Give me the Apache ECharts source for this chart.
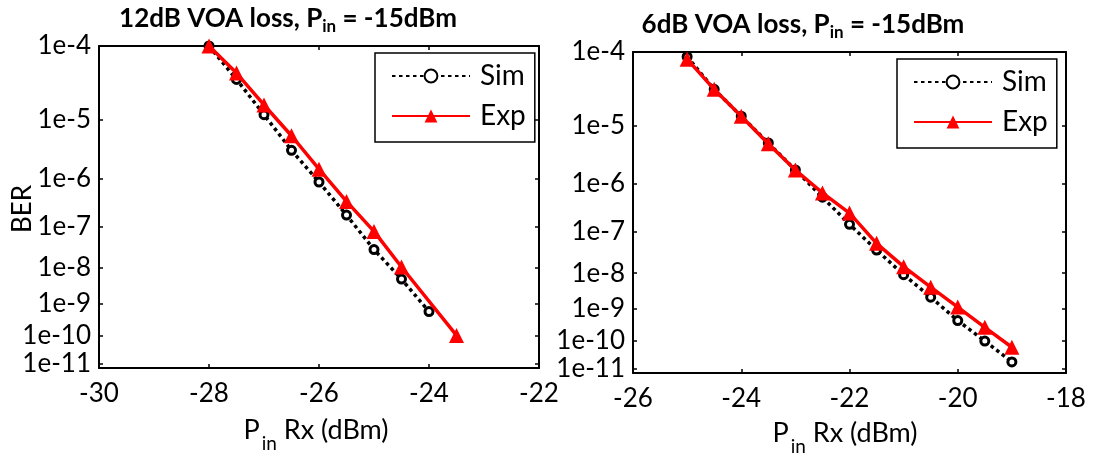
<!DOCTYPE html>
<html>
<head>
<meta charset="utf-8">
<script src="https://cdn.jsdelivr.net/npm/echarts@6/dist/echarts.min.js"></script>
<style>
html,body{margin:0;padding:0;background:#fff;}
#chart{width:1093px;height:456px;}
</style>
</head>
<body>
<div id="chart"></div>
<script>
// ---- data ----
const titleLeft = '12dB VOA loss, P';
const titleRight = '6dB VOA loss, P';
const titleTail = ' = -15dBm';
const xLabelMain = 'P';
const xLabelSub = 'in';
const xLabelTail = ' Rx (dBm)';
const yLabel = 'BER';
const legendNames = ['Sim', 'Exp'];

const berTicks = [1e-4, 1e-5, 1e-6, 1e-7, 1e-8, 1e-9, 1e-10, 1e-11];
const berTickLabels = ['1e-4', '1e-5', '1e-6', '1e-7', '1e-8', '1e-9', '1e-10', '1e-11'];

// 12 dB VOA loss panel
const simX12 = [-28, -27.5, -27, -26.5, -26, -25.5, -25, -24.5, -24];
const simBer12 = [1.0e-4, 3.8e-5, 1.2e-5, 3.2e-6, 8.5e-7, 1.8e-7, 2.9e-8, 5.0e-9, 5.8e-10];
const expX12 = [-28, -27.5, -27, -26.5, -26, -25.5, -25, -24.5, -23.5];
const expBer12 = [1.0e-4, 4.6e-5, 1.67e-5, 5.6e-6, 1.48e-6, 3.5e-7, 7.8e-8, 1.05e-8, 1.0e-10];

// 6 dB VOA loss panel
const simX6 = [-25, -24.5, -24, -23.5, -23, -22.5, -22, -21.5, -21, -20.5, -20, -19.5, -19];
const simBer6 = [8.8e-5, 3.35e-5, 1.39e-5, 5.3e-6, 1.81e-6, 5.5e-7, 1.49e-7, 3.8e-8, 9.1e-9, 2.2e-9, 4.4e-10, 9.6e-11, 1.8e-11];
const expX6 = [-25, -24.5, -24, -23.5, -23, -22.5, -22, -21.5, -21, -20.5, -20, -19.5, -19];
const expBer6 = [8.2e-5, 3.35e-5, 1.39e-5, 5.15e-6, 1.81e-6, 6.7e-7, 2.6e-7, 5.5e-8, 1.47e-8, 4.2e-9, 1.13e-9, 2.7e-10, 5.9e-11];

const xRangeLeft = [-30, -22];
const xRangeRight = [-26, -18];
const berTop = 1e-4;
const berBottom = 7e-12;

// ---- BER -> Q-factor scale (log10 Q), as used by the original plot ----
function erfc(x) {
  const z = Math.abs(x);
  const t = 1 / (1 + 0.5 * z);
  const r = t * Math.exp(-z * z - 1.26551223 + t * (1.00002368 + t * (0.37409196 + t * (0.09678418 +
    t * (-0.18628806 + t * (0.27886807 + t * (-1.13520398 + t * (1.48851587 +
    t * (-0.82215223 + t * 0.17087277)))))))));
  return x >= 0 ? r : 2 - r;
}
function qOf(ber) {
  let lo = 0, hi = 20;
  for (let i = 0; i < 80; i++) {
    const mid = (lo + hi) / 2;
    if (0.5 * erfc(mid / Math.SQRT2) > ber) lo = mid; else hi = mid;
  }
  return (lo + hi) / 2;
}
function yv(ber) { return Math.log10(qOf(ber)); }

const tickVals = berTicks.map(yv);
function tickLabel(v) {
  let best = 0, bd = Infinity;
  tickVals.forEach((t, i) => { const d = Math.abs(t - v); if (d < bd) { bd = d; best = i; } });
  return berTickLabels[best];
}
function pts(xs, bers) { return xs.map((x, i) => [x, yv(bers[i])]); }

const FONT = 'Lato';
const yMin = yv(berTop), yMax = yv(berBottom);

function xAx(grid, range, pos, showLabel) {
  return {
    type: 'value', gridIndex: grid, position: pos, min: range[0], max: range[1], interval: 2,
    axisLine: { show: true, onZero: false, lineStyle: { color: '#000', width: 2 } },
    axisTick: { show: true, inside: true, length: 4, lineStyle: { color: '#000', width: 1.5 } },
    axisLabel: { show: showLabel, fontFamily: FONT, fontSize: 26, color: '#000', margin: 13 },
    splitLine: { show: false }
  };
}
function yAx(grid, pos, showLabel) {
  return {
    type: 'value', gridIndex: grid, position: pos, inverse: true, min: yMin, max: yMax,
    axisLine: { show: true, onZero: false, lineStyle: { color: '#000', width: 2 } },
    axisTick: { show: true, inside: true, length: 4, customValues: tickVals, lineStyle: { color: '#000', width: 1.5 } },
    axisLabel: { show: showLabel, customValues: tickVals, formatter: tickLabel, fontFamily: FONT, fontSize: 26, color: '#000', margin: 8 },
    splitLine: { show: false }
  };
}
function simSeries(xi, yi, data) {
  return {
    name: legendNames[0], type: 'line', xAxisIndex: xi, yAxisIndex: yi, data: data,
    symbol: 'circle', symbolSize: 8, clip: true, z: 2,
    lineStyle: { color: '#000', width: 3.5, type: [3.5, 3.5] },
    itemStyle: { color: '#ffffff', borderColor: '#000', borderWidth: 3 }
  };
}
function expSeries(xi, yi, data) {
  return {
    name: legendNames[1], type: 'line', xAxisIndex: xi, yAxisIndex: yi, data: data,
    symbol: 'triangle', symbolSize: 15, clip: true, z: 3,
    lineStyle: { color: '#ff0000', width: 3.5 },
    itemStyle: { color: '#ff0000' }
  };
}
function legendAt(left, top) {
  return {
    left: left, top: top, orient: 'vertical', data: legendNames,
    itemWidth: 78, itemHeight: 16, itemGap: 10,
    padding: [8, 9, 11, 16],
    borderColor: '#000', borderWidth: 1.5, backgroundColor: '#fff',
    textStyle: { fontFamily: FONT, fontSize: 28, color: '#000', lineHeight: 30, padding: [0, 0, 0, 5] }
  };
}
const titleRich = {
  m: { fontFamily: FONT, fontSize: 26, fontWeight: 'bold', fill: '#000', color: '#000' },
  s: { fontFamily: FONT, fontSize: 17, fontWeight: 'bold', fill: '#000', color: '#000', padding: [16, 0, 0, 0] }
};
const xNameRich = {
  m: { fontFamily: FONT, fontSize: 27, fill: '#000', color: '#000' },
  s: { fontFamily: FONT, fontSize: 19, fill: '#000', color: '#000', padding: [28, 0, 0, 2] }
};
function richText(x, y, str, rich, rot) {
  return {
    type: 'text', x: x, y: y, rotation: rot || 0, z: 10,
    style: { text: str, rich: rich, align: 'center', verticalAlign: 'middle', fill: '#000' }
  };
}

const chart = echarts.init(document.getElementById('chart'), null, { renderer: 'canvas' });
chart.setOption({
  animation: false,
  backgroundColor: '#fff',
  grid: [
    { left: 99, top: 46, width: 440, height: 322 },
    { left: 633, top: 52, width: 433, height: 321 }
  ],
  xAxis: [
    xAx(0, xRangeLeft, 'bottom', true), xAx(0, xRangeLeft, 'top', false),
    xAx(1, xRangeRight, 'bottom', true), xAx(1, xRangeRight, 'top', false)
  ],
  yAxis: [
    yAx(0, 'left', true), yAx(0, 'right', false),
    yAx(1, 'left', true), yAx(1, 'right', false)
  ],
  legend: [legendAt(375, 53), legendAt(897, 59)],
  series: [
    simSeries(0, 0, pts(simX12, simBer12)),
    expSeries(0, 0, pts(expX12, expBer12)),
    simSeries(2, 2, pts(simX6, simBer6)),
    expSeries(2, 2, pts(expX6, expBer6))
  ],
  graphic: [
    richText(288, 19, '{m|' + titleLeft + '}{s|in}{m|' + titleTail + '}', titleRich),
    richText(803, 25, '{m|' + titleRight + '}{s|in}{m|' + titleTail + '}', titleRich),
    richText(316, 430, '{m|' + xLabelMain + '}{s|' + xLabelSub + '}{m|' + xLabelTail + '}', xNameRich),
    richText(845, 433, '{m|' + xLabelMain + '}{s|' + xLabelSub + '}{m|' + xLabelTail + '}', xNameRich),
    {
      type: 'text', x: 23, y: 209, rotation: Math.PI / 2, z: 10,
      style: { text: yLabel, fontFamily: FONT, fontSize: 26, fill: '#000', align: 'center', verticalAlign: 'middle' }
    }
  ]
});
</script>
</body>
</html>
